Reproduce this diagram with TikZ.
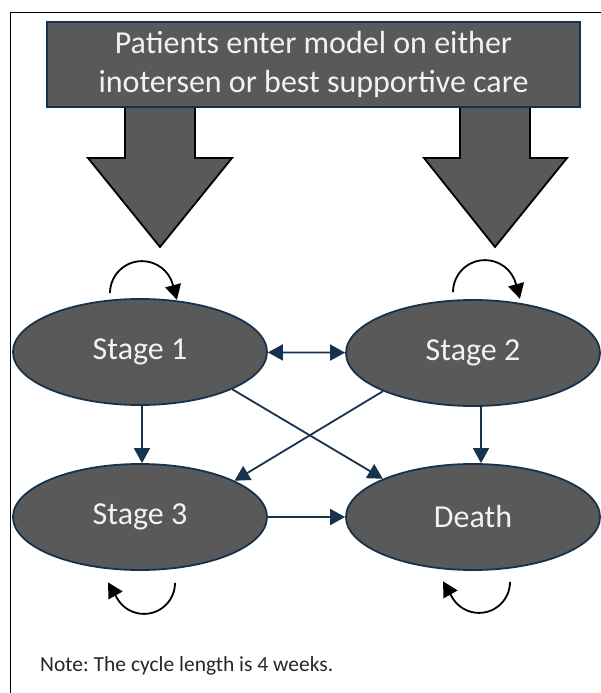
\documentclass[tikz,border=0pt]{standalone}
\usepackage{fontspec}
\setmainfont{Carlito}
\usetikzlibrary{arrows.meta,shapes.geometric,positioning,calc}
\definecolor{stategray}{HTML}{595959}
\definecolor{statenavy}{HTML}{17324D}
\definecolor{notegray}{HTML}{262626}
\frenchspacing

\begin{document}
\begin{tikzpicture}[
    x=1pt, y=-1pt,
    >={Triangle[length=15pt,width=16pt]},
    state/.style={ellipse, draw=statenavy, line width=1.8pt, fill=stategray,
        text=white!95!black, minimum width=254pt, minimum height=106pt,
        font=\fontsize{32}{38}\selectfont},
    entrybox/.style={rectangle, draw=statenavy, line width=1.8pt, fill=stategray,
        text=white!95!black, minimum width=533pt, minimum height=85pt,
        align=center, font=\fontsize{32}{39}\selectfont},
    bigarrow/.style={draw=black, line width=1.8pt, fill=stategray},
    trans/.style={draw=statenavy, line width=1.8pt, ->},
    selfloop/.style={draw=black, line width=1.8pt, ->},
]
\useasboundingbox (0,0) rectangle (601,693);
\draw[line width=1pt] (10,693) -- (10,13) -- (601,13);

\draw[bigarrow] (125,100) -- (125,158) -- (88,158) -- (160,247) -- (232,158) -- (195,158) -- (195,100);
\draw[bigarrow] (460,100) -- (460,158) -- (424,158) -- (495,247) -- (567,158) -- (530,158) -- (530,100);
\node[entrybox] (entry) at (313.5,64.5) {Patients enter model on either\\inotersen or best supportive care};

\node[state] (s1) at (140,352) {Stage 1};
\node[state] (s2) at (473,353) {Stage 2};
\node[state] (s3) at (140,517) {Stage 3};
\node[state] (death) at (473,517) {Death};

\draw[trans,<->] (s1) -- (s2);
\draw[trans] ([xshift=2pt]s1.south) -- ([xshift=2pt]s3.north);
\draw[trans] ([xshift=8pt]s2.south) -- ([xshift=8pt]death.north);
\draw[trans] (s1.-22) -- (death.157);
\draw[trans] (s2.-157) -- (s3.21);
\draw[trans] (s3) -- (death);

\draw[selfloop] ($(s1.north)+(-30,-5)$) arc[start angle=180, end angle=345, radius=32] -- ++(4,15);
\draw[selfloop] ($(s2.north)+(-20,-7)$) arc[start angle=180, end angle=345, radius=32] -- ++(4,15);
\draw[selfloop] ($(s3.south)+(35,12)$) arc[start angle=0, end angle=150, radius=31] -- ++(-9,-16);
\draw[selfloop] ($(death.south)+(37,11)$) arc[start angle=0, end angle=150, radius=31] -- ++(-9,-16);

\node[anchor=base west, inner sep=0pt, text=notegray, font=\fontsize{21.5}{26}\selectfont] (note) at (40,671) {Note: The cycle length is 4 weeks.};
\end{tikzpicture}
\end{document}
